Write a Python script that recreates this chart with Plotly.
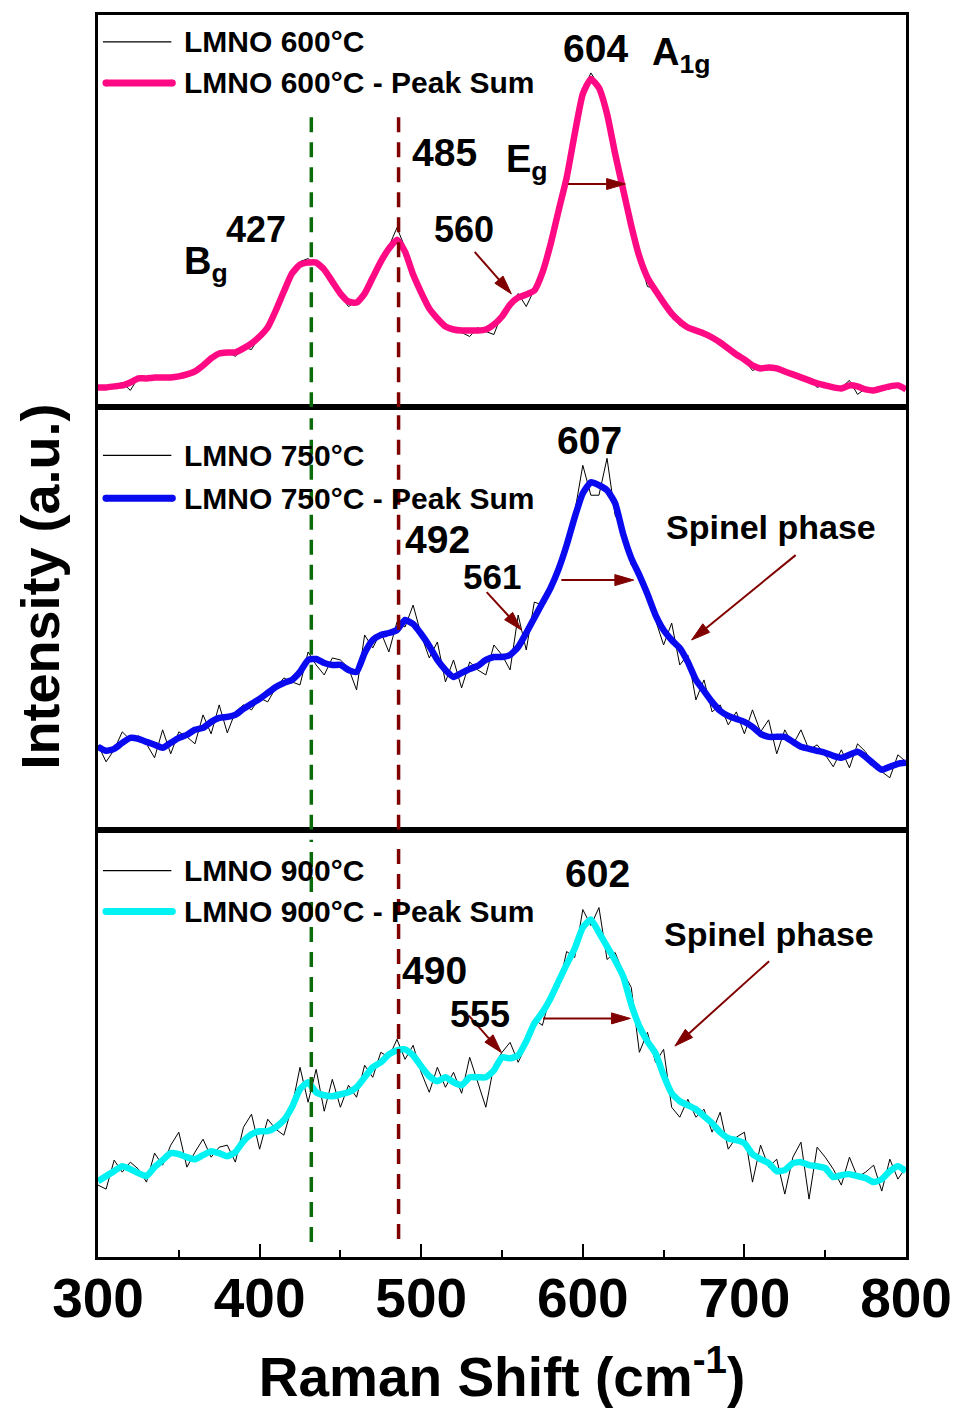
import math
import plotly.graph_objects as go
from plotly.subplots import make_subplots

# Raman shift axis (cm-1), sampled every 5 cm-1
shift = [300, 305, 310, 315, 320, 325, 330, 335, 340, 345,
         350, 355, 360, 365, 370, 375, 380, 385, 390, 395,
         400, 405, 410, 415, 420, 425, 430, 435, 440, 445,
         450, 455, 460, 465, 470, 475, 480, 485, 490, 495,
         500, 505, 510, 515, 520, 525, 530, 535, 540, 545,
         550, 555, 560, 565, 570, 575, 580, 585, 590, 595,
         600, 605, 610, 615, 620, 625, 630, 635, 640, 645,
         650, 655, 660, 665, 670, 675, 680, 685, 690, 695,
         700, 705, 710, 715, 720, 725, 730, 735, 740, 745,
         750, 755, 760, 765, 770, 775, 780, 785, 790, 795, 800]

# LMNO 600 °C: measured spectrum and fitted peak sum (a.u.)
raw_600 = [19, 21, 21, 25, 17, 30, 27, 31, 28, 32,
           29, 34, 36, 41, 50, 53, 56, 51, 60, 58,
           72, 85, 96, 118, 136, 146, 149, 143, 139, 126,
           112, 101, 106, 113, 132, 148, 161, 180, 160, 131,
           116, 98, 90, 80, 80, 75, 71, 80, 76, 73,
           94, 101, 114, 101, 118, 133, 166, 196, 232, 276,
           317, 335, 322, 292, 256, 216, 182, 150, 121, 119,
           104, 95, 82, 81, 76, 75, 69, 66, 58, 54,
           47, 37, 40, 39, 40, 35, 34, 29, 28, 20,
           23, 20, 20, 27, 13, 19, 17, 20, 22, 21, 18]
fit_600 = [20, 20, 21, 22, 25, 29, 29, 30, 30, 30,
           31, 33, 36, 42, 49, 54, 55, 55, 59, 64,
           71, 80, 97, 116, 134, 143, 145, 145, 138, 126,
           114, 106, 105, 114, 130, 146, 159, 168, 156, 133,
           115, 99, 89, 81, 78, 77, 77, 77, 78, 83,
           91, 103, 110, 113, 117, 135, 163, 197, 230, 274,
           314, 329, 320, 294, 254, 218, 182, 151, 130, 117,
           105, 94, 86, 80, 77, 74, 70, 65, 59, 53,
           48, 42, 39, 40, 39, 36, 33, 30, 27, 24,
           22, 20, 19, 22, 21, 18, 17, 19, 21, 22, 18]

# LMNO 750 °C
raw_750 = [85, 68, 80, 98, 90, 94, 86, 72, 100, 76,
           98, 93, 86, 115, 96, 125, 97, 118, 125, 120,
           132, 128, 142, 152, 148, 145, 178, 165, 155, 172,
           170, 162, 140, 195, 182, 198, 178, 208, 203, 225,
           195, 172, 188, 148, 170, 142, 168, 160, 155, 185,
           175, 160, 215, 180, 228, 225, 245, 258, 290, 318,
           365, 335, 335, 372, 315, 300, 265, 260, 235, 210,
           185, 207, 165, 175, 130, 150, 118, 125, 105, 118,
           96, 120, 98, 110, 76, 100, 85, 100, 80, 85,
           75, 63, 80, 62, 86, 78, 64, 58, 52, 75, 68]
fit_750 = [83, 79, 81, 87, 92, 91, 88, 85, 82, 87,
           92, 95, 100, 102, 108, 112, 113, 115, 121, 126,
           131, 137, 143, 147, 150, 158, 170, 171, 167, 165,
           165, 160, 158, 177, 190, 195, 197, 200, 210, 206,
           196, 184, 170, 160, 153, 157, 161, 164, 170, 173,
           173, 175, 183, 197, 212, 227, 242, 261, 285, 313,
           337, 348, 345, 340, 327, 296, 272, 255, 236, 215,
           200, 190, 182, 168, 150, 139, 128, 119, 114, 111,
           108, 103, 96, 93, 93, 93, 88, 83, 81, 79,
           77, 74, 72, 75, 78, 73, 66, 60, 63, 66, 67]

# LMNO 900 °C
raw_900 = [72, 68, 97, 85, 95, 88, 75, 104, 92, 112,
           125, 90, 105, 118, 100, 110, 112, 95, 130, 143,
           108, 138, 128, 122, 150, 190, 155, 188, 146, 178,
           150, 172, 160, 192, 180, 205, 200, 218, 198, 212,
           185, 165, 190, 170, 185, 164, 200, 175, 150, 192,
           205, 215, 195, 212, 238, 232, 262, 270, 306, 300,
           348, 332, 350, 298, 305, 285, 270, 205, 225, 195,
           208, 150, 140, 158, 140, 148, 125, 145, 108, 120,
           125, 75, 112, 90, 98, 63, 100, 115, 58, 110,
           100, 88, 72, 100, 80, 85, 92, 66, 98, 78, 90]
fit_900 = [76, 81, 86, 91, 88, 84, 81, 90, 97, 104,
           103, 100, 98, 102, 106, 104, 101, 105, 116, 123,
           126, 126, 130, 137, 150, 168, 175, 165, 162, 161,
           163, 165, 170, 180, 190, 195, 203, 207, 208, 202,
           191, 181, 176, 180, 175, 172, 180, 180, 180, 187,
           200, 199, 202, 216, 234, 245, 259, 276, 293, 309,
           330, 338, 325, 311, 297, 281, 253, 231, 216, 204,
           182, 164, 156, 152, 148, 141, 134, 125, 119, 117,
           114, 103, 98, 94, 86, 87, 94, 95, 92, 91,
           89, 80, 82, 83, 81, 79, 75, 78, 86, 91, 86]

temps = ["600", "750", "900"]
fit_colors = ["#FF0A84", "#0A0AF0", "#00F2F2"]

FONT = "Liberation Sans, Arial, sans-serif"
DARK_RED = "#800000"
GREEN = "#0B6B0B"

W, H = 964, 1409
ML, MR, MT, MB = 98, 51, 14, 151
PW, PH = W - ML - MR, H - MT - MB
X_RANGE = [300, 800]
KX = PW / (X_RANGE[1] - X_RANGE[0])   # px per cm-1


def px(xp, yp):
    """Page pixel position -> paper coordinates."""
    return (xp - ML) / PW, (H - MB - yp) / PH


def refs(p):
    return ("x", "y") if p == 0 else (f"x{p + 1}", f"y{p + 1}")


# panel borders (page pixels): top 14-407, middle 407-830, bottom 830-1258
edges = [MT, 407, 830, H - MB]
domains = [[(H - MB - edges[i + 1]) / PH, (H - MB - edges[i]) / PH]
           for i in range(3)]
# one intensity unit per pixel in every panel
y_ranges = [[0, edges[i + 1] - edges[i]] for i in range(3)]

fig = make_subplots(rows=3, cols=1, shared_xaxes=True, vertical_spacing=0)

raws = [raw_600, raw_750, raw_900]
fits = [fit_600, fit_750, fit_900]
for i in range(3):
    fig.add_trace(go.Scatter(x=shift, y=raws[i], mode="lines",
                             line=dict(color="black", width=1),
                             showlegend=False, hoverinfo="skip"),
                  row=i + 1, col=1)
    fig.add_trace(go.Scatter(x=shift, y=fits[i], mode="lines",
                             line=dict(color=fit_colors[i], width=6.5,
                                       shape="spline", smoothing=0.5),
                             showlegend=False, hoverinfo="skip"),
                  row=i + 1, col=1)

shapes = []
annotations = []

# dashed guide lines at the Bg and Eg positions
guide_x = [432, 486]
guide_colors = [GREEN, DARK_RED]
guide_spans = [
    [(0, 297), (0, 299)],
    [(0, 412), (0, 415)],
    [(15, 418), (18, 418)],
]
for i in range(3):
    xr, yr = refs(i)
    for gx, gc, (y0, y1) in zip(guide_x, guide_colors, guide_spans[i]):
        shapes.append(dict(type="line", xref=xr, yref=yr, x0=gx, x1=gx,
                           y0=y0, y1=y1,
                           line=dict(color=gc, width=3.5, dash="15px,10px")))

# per-panel legends
legend_rows = [(41, 82), (455, 498), (871, 912)]
for i in range(3):
    y_raw, y_fit = legend_rows[i]
    a0, b0 = px(103, y_raw)
    a1, _ = px(172, y_raw)
    shapes.append(dict(type="line", xref="paper", yref="paper",
                       x0=a0, x1=a1, y0=b0, y1=b0,
                       line=dict(color="black", width=1.2)))
    a0, b1 = px(106, y_fit)
    a1, _ = px(173, y_fit)
    shapes.append(dict(type="line", xref="paper", yref="paper",
                       x0=a0, x1=a1, y0=b1, y1=b1,
                       line=dict(color=fit_colors[i], width=7)))
    for cx in (106, 173):
        c0, d0 = px(cx - 3.5, y_fit - 3.5)
        c1, d1 = px(cx + 3.5, y_fit + 3.5)
        shapes.append(dict(type="circle", xref="paper", yref="paper",
                           x0=c0, x1=c1, y0=d1, y1=d0,
                           fillcolor=fit_colors[i], line=dict(width=0)))
    for yy, txt in ((y_raw, f"LMNO {temps[i]}°C"),
                    (y_fit, f"LMNO {temps[i]}°C - Peak Sum")):
        tx, ty = px(183, yy)
        annotations.append(dict(xref="paper", yref="paper", x=tx, y=ty,
                                text=txt, showarrow=False,
                                xanchor="left", yanchor="middle",
                                font=dict(family=FONT, size=30, color="black",
                                          weight="bold")))

# peak labels: (panel, x, y, text, size, xanchor)
labels = [
    (0, 608, 359, "604", 39, "center"),
    (0, 641.7, 353, "A<sub>1g</sub>", 38, "left"),
    (0, 514.7, 255, "485", 39, "center"),
    (0, 551.5, 246, "E<sub>g</sub>", 38, "left"),
    (0, 397.5, 178, "427", 36, "center"),
    (0, 352, 144, "B<sub>g</sub>", 38, "left"),
    (0, 526.4, 178, "560", 36, "center"),
    (1, 604.3, 390, "607", 39, "center"),
    (1, 509.8, 291, "492", 39, "center"),
    (1, 543.6, 254, "561", 35, "center"),
    (1, 716.6, 303, "Spinel phase", 34, "center"),
    (2, 609.2, 384, "602", 39, "center"),
    (2, 715.3, 324, "Spinel phase", 34, "center"),
    (2, 508, 287, "490", 39, "center"),
    (2, 536.2, 243, "555", 36, "center"),
]
for p, lx, ly, txt, fs, xa in labels:
    xr, yr = refs(p)
    annotations.append(dict(xref=xr, yref=yr, x=lx, y=ly, text=txt,
                            showarrow=False, xanchor=xa, yanchor="middle",
                            font=dict(family=FONT, size=fs, color="black",
                                      weight="bold")))

# arrows: (panel, tip x, tip y, tail dx px, tail dy px; dy measured downward)
arrows = [
    (0, 555.8, 113.7, -37, -42),
    (0, 626.4, 223.7, -58, 0),
    (1, 562.0, 200.0, -35, -38),
    (1, 631.5, 250.0, -73, 0),
    (1, 667.3, 190.0, 105, -85),
    (2, 549.7, 204.7, -33, -37),
    (2, 629.4, 239.0, -88, 0),
    (2, 657.0, 211.3, 95, -85),
]
HEAD_LEN, HEAD_HALF = 19, 5.5
for p, tx, ty, dx, dy in arrows:
    xr, yr = refs(p)
    n = math.hypot(dx, dy)
    ux, uy = dx / n, dy / n           # unit vector tip -> tail (screen px)
    vx, vy = -uy, ux                  # perpendicular

    def to_data(sx, sy):
        return tx + sx / KX, ty - sy

    bx, by = ux * HEAD_LEN, uy * HEAD_LEN
    t0 = to_data(dx, dy)
    t1 = to_data(bx * 0.8, by * 0.8)
    shapes.append(dict(type="line", xref=xr, yref=yr,
                       x0=t0[0], y0=t0[1], x1=t1[0], y1=t1[1],
                       line=dict(color=DARK_RED, width=2)))
    p0 = to_data(0, 0)
    p1 = to_data(bx + vx * HEAD_HALF, by + vy * HEAD_HALF)
    p2 = to_data(bx - vx * HEAD_HALF, by - vy * HEAD_HALF)
    path = (f"M {p0[0]:.3f},{p0[1]:.3f} L {p1[0]:.3f},{p1[1]:.3f} "
            f"L {p2[0]:.3f},{p2[1]:.3f} Z")
    shapes.append(dict(type="path", xref=xr, yref=yr, path=path,
                       fillcolor=DARK_RED, line=dict(color=DARK_RED, width=1)))

# vertical axis title
tx, ty = px(40, 586)
annotations.append(dict(xref="paper", yref="paper", x=tx, y=ty,
                        text="Intensity (a.u.)", textangle=-90,
                        showarrow=False, xanchor="center", yanchor="middle",
                        font=dict(family=FONT, size=54, color="black",
                                  weight="bold")))

layout_axes = {}
for i in range(3):
    xk = "xaxis" if i == 0 else f"xaxis{i + 1}"
    yk = "yaxis" if i == 0 else f"yaxis{i + 1}"
    layout_axes[yk] = dict(domain=domains[i], range=y_ranges[i],
                           showline=True, mirror=True, linecolor="black",
                           linewidth=2.5, showgrid=False, zeroline=False,
                           ticks="", showticklabels=False, fixedrange=True)
    xa = dict(range=X_RANGE, showline=True, mirror=True,
              linecolor="black", linewidth=2.5, showgrid=False,
              zeroline=False, fixedrange=True)
    if i < 2:
        xa.update(ticks="", showticklabels=False)
    else:
        xa.update(ticks="inside", ticklen=13, tickwidth=2, tickcolor="black",
                  tick0=300, dtick=100, ticklabelstandoff=-9,
                  tickfont=dict(family=FONT, size=55, color="black",
                                weight="bold"),
                  minor=dict(dtick=50, ticks="inside", ticklen=7,
                             tickwidth=2, tickcolor="black"),
                  title=dict(text="Raman Shift (cm<sup>-1</sup>)",
                             standoff=30,
                             font=dict(family=FONT, size=55, color="black",
                                       weight="bold")))
    layout_axes[xk] = xa

fig.update_layout(
    width=W, height=H,
    margin=dict(l=ML, r=MR, t=MT, b=MB, pad=0),
    paper_bgcolor="white", plot_bgcolor="white",
    font=dict(family=FONT, color="black"),
    shapes=shapes, annotations=annotations,
    showlegend=False,
    **layout_axes,
)

fig.write_html("out.html", config={"displayModeBar": False})
